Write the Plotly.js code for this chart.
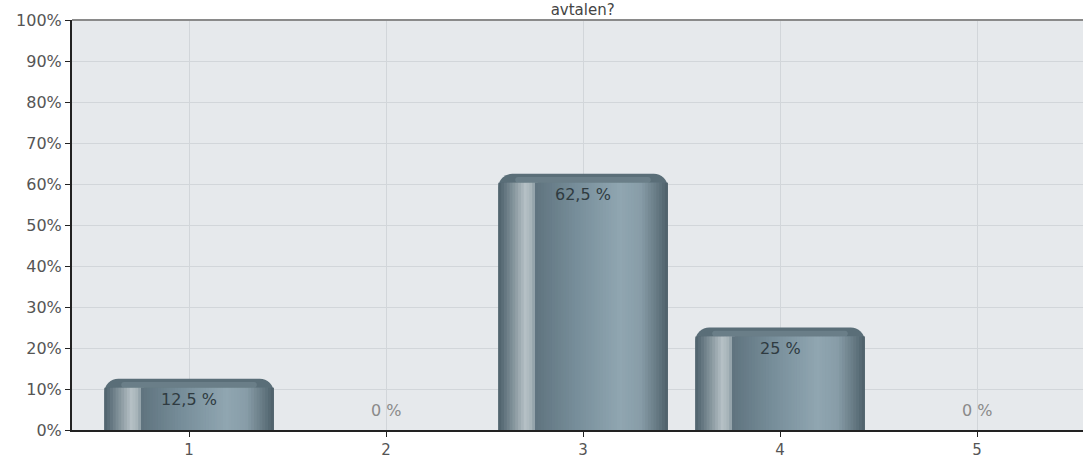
<!DOCTYPE html>
<html><head><meta charset="utf-8">
<script src="https://cdn.plot.ly/plotly-3.0.1.min.js"></script>
<style>html,body{margin:0;padding:0;background:#fff;}#chart{width:1083px;height:459px;}</style>
</head><body><div id="chart"></div>
<script>
const categories = [1, 2, 3, 4, 5];
const values = [12.5, 0, 62.5, 25, 0];
const valueLabels = ['12,5 %', '0 %', '62,5 %', '25 %', '0 %'];
const yTickVals = [0,10,20,30,40,50,60,70,80,90,100];
const yTickText = ['0%','10%','20%','30%','40%','50%','60%','70%','80%','90%','100%'];
const titleText = 'avtalen?';

const FONT = 'DejaVu Sans, Verdana, sans-serif';
const W = 0.86;
const CAP = 2.2; // top cap thickness in axis units (style)
// colour stops across the bar width (style only)
const stops = [
  [0.00,[77,96,106]],[0.04,[100,118,128]],[0.10,[140,155,162]],[0.16,[182,193,198]],
  [0.205,[160,174,180]],[0.225,[96,116,127]],[0.45,[118,141,153]],[0.72,[144,166,177]],
  [0.84,[136,157,168]],[0.93,[104,124,134]],[1.00,[78,96,106]]
];
function colAt(f){
  for(let i=1;i<stops.length;i++){
    if(f<=stops[i][0]){
      const a=stops[i-1], b=stops[i], t=(f-a[0])/(b[0]-a[0]);
      const c=a[1].map((v,k)=>Math.round(v+(b[1][k]-v)*t));
      return 'rgb('+c.join(',')+')';
    }
  }
  return 'rgb(78,96,106)';
}
const traces = [{type:'bar', x:categories, y:values, width:W, offset:-W/2,
  marker:{color:'#5a6e78', cornerradius:14, line:{width:0}}, hoverinfo:'skip', showlegend:false}];
const N = 60;
const bodyY = values.map(v => v > 0 ? v - CAP : 0);
for(let i=0;i<N;i++){
  const f=(i+0.5)/N;
  const wslice = i < N-1 ? W/N*2 : W/N;
  traces.push({type:'bar', x:categories, y:bodyY, width:wslice, offset:-W/2+W*i/N,
    marker:{color:colAt(f), line:{width:0}}, hoverinfo:'skip', showlegend:false});
}
// top cap highlight
traces.push({type:'bar', x:categories, y:values.map(v=>v>0?CAP*0.65:0), base:bodyY,
  width:W*0.8, offset:-W*0.4, marker:{color:'rgba(120,140,150,0.55)', cornerradius:6, line:{width:0}},
  hoverinfo:'skip', showlegend:false});

const annotations = categories.map((c,i)=>({
  x:c, y:values[i], xref:'x', yref:'y', text:valueLabels[i], showarrow:false,
  yshift: values[i] > 0 ? -21 : 20,
  font:{family:FONT, size:16, color: values[i] > 0 ? '#2f3b41' : '#8a8a8a'}
}));

const layout = {
  width:1083, height:459,
  margin:{l:72, r:0, t:20, b:29},
  paper_bgcolor:'#ffffff', plot_bgcolor:'#e6e9ec',
  barmode:'overlay',
  title:{text:titleText, x:0.538, xanchor:'center', y:0.978, yref:'container', yanchor:'middle',
    font:{family:FONT, size:15, color:'#444'}},
  xaxis:{range:[0.406, 5.538], tickvals:categories, ticktext:categories.map(String),
    showgrid:true, gridcolor:'#d2d6da', gridwidth:1, zeroline:false,
    showline:true, linecolor:'#222', linewidth:2, ticks:'outside', ticklen:5, tickcolor:'#222',
    tickfont:{family:FONT, size:15, color:'#555'}, fixedrange:true},
  yaxis:{range:[0,100], tickvals:yTickVals, ticktext:yTickText,
    showgrid:true, gridcolor:'#d2d6da', gridwidth:1, zeroline:false,
    showline:true, linecolor:'#222', linewidth:2, ticks:'outside', ticklen:5, tickcolor:'#222',
    tickfont:{family:FONT, size:16, color:'#555'}, fixedrange:true},
  shapes:[{type:'line', xref:'paper', yref:'paper', x0:0, x1:1, y0:1, y1:1, line:{color:'#8a8a8a', width:2}}],
  annotations:annotations
};
Plotly.newPlot('chart', traces, layout, {displayModeBar:false, staticPlot:true});
</script></body></html>
